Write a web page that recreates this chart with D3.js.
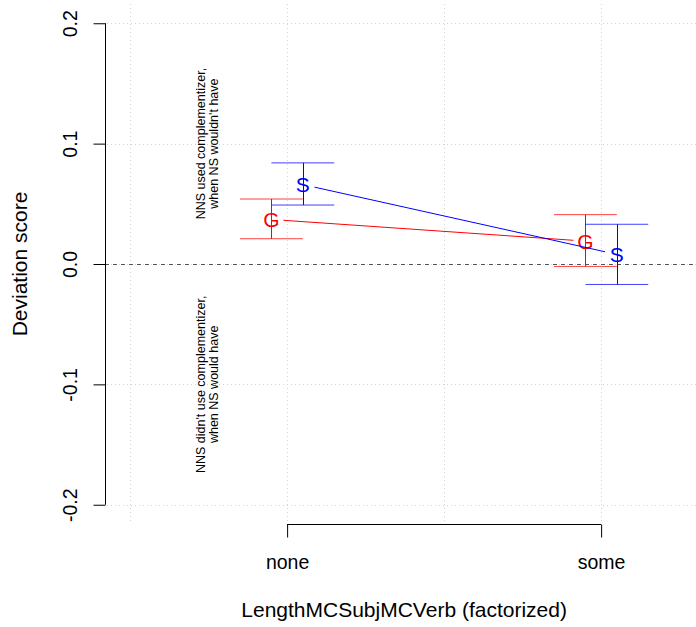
<!DOCTYPE html>
<html>
<head>
<meta charset="utf-8">
<script src="https://cdn.jsdelivr.net/npm/d3@7"></script>
<style>
  body { margin: 0; background: #fff; }
  svg { font-family: "Liberation Sans", Arial, sans-serif; }
</style>
</head>
<body>
<div id="chart"></div>
<script>
// data
const categories = ["none", "some"];
const groupNames = ["G", "S"];
const groupColors = ["#ff0000", "#0000ff"];
const gMean = [0.037, 0.019];
const gLow = [0.021, -0.002];
const gHigh = [0.054, 0.041];
const sMean = [0.066, 0.008];
const sLow = [0.049, -0.017];
const sHigh = [0.084, 0.033];
const yTicks = [-0.2, -0.1, 0.0, 0.1, 0.2];
const xGrid = [0.5, 1, 1.5, 2, 2.5];

const width = 696, height = 627;
const plotLeft = 105, plotTop = 4, plotBottom = 524;

const svg = d3.select("#chart").append("svg")
  .attr("width", width)
  .attr("height", height);

const x = d3.scaleLinear().domain([0.42, 2.58]).range([plotLeft, plotLeft + 2.16 * 314]);
const y = d3.scaleLinear().domain([-0.216, 0.216]).range([plotBottom, plotTop]);

// grid
svg.append("g").selectAll("line").data(yTicks).enter().append("line")
  .attr("x1", plotLeft + 2).attr("x2", width)
  .attr("y1", d => Math.round(y(d)) + 0.5).attr("y2", d => Math.round(y(d)) + 0.5)
  .attr("stroke", "#d3d3d3").attr("stroke-dasharray", "1,3");
svg.append("g").selectAll("line").data(xGrid).enter().append("line")
  .attr("x1", d => Math.round(x(d)) + 0.5).attr("x2", d => Math.round(x(d)) + 0.5)
  .attr("y1", plotTop).attr("y2", plotBottom - 3)
  .attr("stroke", "#d3d3d3").attr("stroke-dasharray", "1,3");

// zero line
svg.append("line")
  .attr("x1", plotLeft).attr("x2", width)
  .attr("y1", Math.round(y(0)) + 0.5).attr("y2", Math.round(y(0)) + 0.5)
  .attr("stroke", "#555").attr("stroke-dasharray", "4,4");

// y axis (plain hyphen for negatives, like the original)
const yAxis = svg.append("g")
  .attr("transform", `translate(${plotLeft + 0.5},0)`)
  .call(d3.axisLeft(y).tickValues(yTicks).tickSize(12).tickFormat(d => d.toFixed(1)).tickSizeOuter(0));
yAxis.select(".domain").attr("d", `M0,${y(-0.2)}V${y(0.2)}`).attr("stroke", "#000");
yAxis.selectAll(".tick line").attr("stroke", "#000");
yAxis.selectAll(".tick text")
  .attr("font-size", 19.5).attr("fill", "#000")
  .attr("text-anchor", "middle")
  .attr("transform", "translate(-35,0) rotate(-90)")
  .attr("x", 0).attr("dy", "0.35em");

// x axis
const xAxis = svg.append("g")
  .attr("transform", `translate(0,${plotBottom + 0.5})`)
  .call(d3.axisBottom(x).tickValues([1, 2]).tickSize(13)
    .tickFormat((d, i) => categories[i]).tickSizeOuter(0));
xAxis.select(".domain").attr("d", `M${x(1)},0H${x(2)}`).attr("stroke", "#000");
xAxis.selectAll(".tick line").attr("stroke", "#000");
xAxis.selectAll(".tick text").attr("font-size", 19.5).attr("fill", "#000")
  .attr("y", 38).attr("dy", "0.35em");

// axis titles
svg.append("text")
  .attr("x", x(1.5) - 40).attr("y", 610).attr("dy", "0.35em")
  .attr("text-anchor", "middle").attr("font-size", 21)
  .text("LengthMCSubjMCVerb (factorized)");
svg.append("text")
  .attr("transform", `translate(20,${y(0)}) rotate(-90)`)
  .attr("dy", "0.35em")
  .attr("text-anchor", "middle").attr("font-size", 21)
  .text("Deviation score");

// annotations
const notes = [
  { v: 0.1, lines: ["NNS used complementizer,", "when NS wouldn't have"] },
  { v: -0.1, lines: ["NNS didn't use complementizer,", "when NS would have"] }
];
notes.forEach(n => {
  n.lines.forEach((t, i) => {
    svg.append("text")
      .attr("transform", `translate(${201 + i * 13},${y(n.v)}) rotate(-90)`)
      .attr("dy", "0.35em")
      .attr("text-anchor", "middle").attr("font-size", 12.5)
      .text(t);
  });
});

// series
const series = [
  { name: groupNames[0], color: groupColors[0], mean: gMean, lo: gLow, hi: gHigh, off: -0.05 },
  { name: groupNames[1], color: groupColors[1], mean: sMean, lo: sLow, hi: sHigh, off: 0.05 }
];
const capHalf = 0.1;
const gap = 12;

series.forEach(s => {
  const g = svg.append("g");
  const pts = s.mean.map((m, i) => ({ xv: i + 1 + s.off, m: m, lo: s.lo[i], hi: s.hi[i] }));

  // error bars
  pts.forEach(p => {
    const cx = Math.round(x(p.xv)) + 0.5;
    g.append("line").attr("x1", cx).attr("x2", cx)
      .attr("y1", y(p.lo)).attr("y2", y(p.hi))
      .attr("stroke", s.color);
    [p.lo, p.hi].forEach(v => {
      g.append("line")
        .attr("x1", x(p.xv - capHalf)).attr("x2", x(p.xv + capHalf))
        .attr("y1", y(v)).attr("y2", y(v))
        .attr("stroke", s.color).attr("stroke-opacity", 0.75);
    });
  });

  // connecting line with gaps round the letters
  for (let i = 0; i < pts.length - 1; i++) {
    const x1 = x(pts[i].xv), y1 = y(pts[i].m);
    const x2 = x(pts[i + 1].xv), y2 = y(pts[i + 1].m);
    const len = Math.hypot(x2 - x1, y2 - y1);
    const ux = (x2 - x1) / len, uy = (y2 - y1) / len;
    g.append("line")
      .attr("x1", x1 + ux * gap).attr("y1", y1 + uy * gap)
      .attr("x2", x2 - ux * gap).attr("y2", y2 - uy * gap)
      .attr("stroke", s.color);
  }

  // letters
  g.selectAll("text").data(pts).enter().append("text")
    .attr("x", p => x(p.xv)).attr("y", p => y(p.m))
    .attr("dy", "0.36em")
    .attr("text-anchor", "middle")
    .attr("font-size", 21)
    .attr("fill", s.color)
    .text(s.name);
});
</script>
</body>
</html>
